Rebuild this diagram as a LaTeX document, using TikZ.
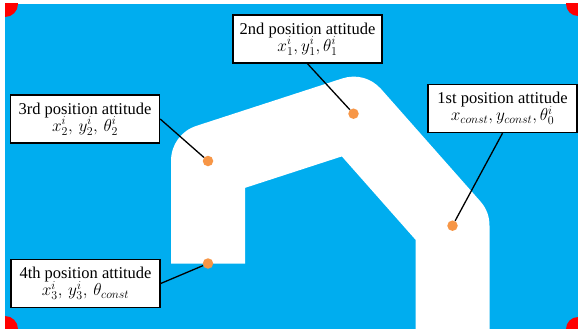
\documentclass[tikz,border=0pt]{standalone}
\usepackage{fontspec}
\setmainfont{Liberation Serif}
\usepackage{amsmath}
\usetikzlibrary{positioning}
\definecolor{field}{HTML}{00ADEF}
\definecolor{marker}{HTML}{F79646}
\definecolor{corner}{HTML}{FF0000}
\newcommand{\poseline}[1]{{\fontsize{17.5}{20}\selectfont$#1$}}
\tikzset{
  posebox/.style={draw=black, line width=1.4pt, fill=white, align=center,
    minimum width=149pt, minimum height=48pt, inner sep=1pt,
    font=\fontsize{16.5}{19}\selectfont},
  pose/.style={circle, fill=marker, inner sep=0pt, minimum size=10.5pt},
  lead/.style={line width=1.3pt, draw=black},
  track/.style={line width=74pt, draw=white, line join=round, line cap=butt}
}
\begin{document}
\begin{tikzpicture}[x=1pt,y=-1pt]
  \useasboundingbox (0,0) rectangle (578,329);
  \fill[field] (5,4) rectangle (578,329);
  \begin{scope}
    \clip (5,4) rectangle (578,329);
    \fill[corner] (5,4) circle[radius=13];
    \fill[corner] (578,4) circle[radius=12];
    \fill[corner] (5,329) circle[radius=13];
    \fill[corner] (578,329) circle[radius=12];
  \end{scope}
  % centre line of the white track
  \coordinate (c4) at (208,263.5);
  \coordinate (c3) at (208,161);
  \coordinate (c2) at (353.5,113.7);
  \coordinate (c1) at (452.5,225.7);
  \coordinate (cend) at (452.5,329);
  \draw[track] (c4) -- (c3) -- (c2) -- (c1) -- (cend);
  % the four poses
  \node[pose] (p1) at (c1) {};
  \node[pose] (p2) at (c2) {};
  \node[pose] (p3) at (c3) {};
  \node[pose] (p4) at (c4) {};
  \node[posebox] (b2) at (307.5,39) {2nd position attitude\\[-2pt] \poseline{x_1^i, y_1^i, \theta_1^i}};
  \node[posebox] (b3) at (85,119) {3rd position attitude\\[-2pt] \poseline{x_2^i,\, y_2^i,\, \theta_2^i}};
  \node[posebox] (b1) at (502.5,108.5) {1st position attitude\\[-2pt] \poseline{x_{const}, y_{const}, \theta_0^i}};
  \node[posebox] (b4) at (85.5,283.5) {4th position attitude\\[-2pt] \poseline{x_3^i,\, y_3^i,\, \theta_{const}}};
  \draw[lead] (b2.south) -- (p2);
  \draw[lead] (b3.east) -- (p3);
  \draw[lead] (b1.south) -- (p1);
  \draw[lead] (b4.east) -- (p4);
\end{tikzpicture}
\end{document}
